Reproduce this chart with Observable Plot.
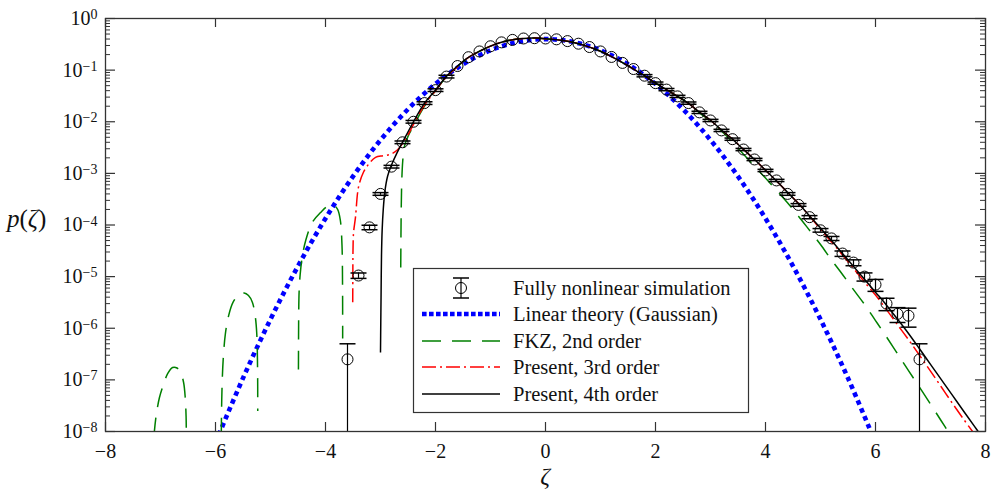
<!DOCTYPE html>
<html>
<head>
<meta charset="utf-8">
<script src="https://cdn.jsdelivr.net/npm/d3@7"></script>
<script src="https://cdn.jsdelivr.net/npm/@observablehq/plot@0.6"></script>
<style>
  html, body { margin: 0; padding: 0; background: #fff; }
  #chart { width: 992px; height: 492px; }
  svg { display: block; }
</style>
</head>
<body>
<div id="chart"></div>
<script>
// ---------- tick labels / legend ----------
const xTickValues = [-8, -6, -4, -2, 0, 2, 4, 6, 8];
const yDecades = [-8, -7, -6, -5, -4, -3, -2, -1, 0];
const legendLabels = [
  "Fully nonlinear simulation",
  "Linear theory (Gaussian)",
  "FKZ, 2nd order",
  "Present, 3rd order",
  "Present, 4th order"
];

// ---------- Fully nonlinear simulation (circles with error bars) ----------
const simZeta = [-3.6,-3.4,-3.2,-3.0,-2.8,-2.6,-2.4,-2.2,-2.0,-1.8,-1.6,-1.4,-1.2,-1.0,-0.8,-0.6,-0.4,-0.2,0,0.2,0.4,0.6,0.8,1.0,1.2,1.4,1.6,1.8,2.0,2.2,2.4,2.6,2.8,3.0,3.2,3.4,3.6,3.8,4.0,4.2,4.4,4.6,4.8,5.0,5.2,5.4,5.6,5.8,6.0,6.2,6.4,6.6,6.8];
const simP = [2.5e-7,1.05e-5,9e-5,4.0e-4,1.35e-3,4.0e-3,1.0e-2,2.3e-2,4.1e-2,7.5e-2,0.12,0.178,0.23,0.29,0.345,0.385,0.41,0.415,0.41,0.395,0.365,0.325,0.28,0.23,0.18,0.138,0.105,0.078,0.056,0.042,0.031,0.023,0.0152,0.0106,0.0068,0.0046,0.0029,0.00186,0.00114,7.3e-4,4.0e-4,2.45e-4,1.42e-4,7.9e-5,5.5e-5,2.8e-5,1.87e-5,1.0e-5,7.0e-6,3.0e-6,1.9e-6,1.75e-6,2.5e-7];
// relative error (sigma / p); null = no visible bar
const simRelErr = [1.0,0.12,0.1,0.06,0.06,0.06,0.06,0.06,0.06,0.06,
  null,null,null,null,null,null,null,null,null,null,null,null,null,null,null,null,null,
  0.05,0.05,0.05,0.05,0.05,0.05,0.05,0.05,0.05,0.05,0.05,0.05,0.05,0.06,0.06,0.07,0.08,0.09,0.12,0.13,0.18,0.26,0.27,0.32,0.4,1.0];

// ---------- Linear theory (Gaussian) ----------
const gaussZeta = [-6,-5.5,-5,-4.5,-4,-3.5,-3,-2.5,-2,-1.5,-1,-0.5,0,0.5,1,1.5,2,2.5,3,3.5,4,4.5,5,5.5,6];
const gaussP = [6.08e-9,1.08e-7,1.49e-6,1.60e-5,1.34e-4,8.73e-4,4.43e-3,1.75e-2,5.40e-2,0.1295,0.242,0.352,0.399,0.352,0.242,0.1295,5.40e-2,1.75e-2,4.43e-3,8.73e-4,1.34e-4,1.60e-5,1.49e-6,1.08e-7,6.08e-9];

// ---------- FKZ, 2nd order (several branches) ----------
const fkzMainZeta = [-2.632,-2.628,-2.622,-2.612,-2.595,-2.57,-2.5,-2.4,-2.2,-2.0,-1.8,-1.6,-1.4,-1.2,-1.0,-0.8,-0.6,-0.4,-0.2,0,0.2,0.4,0.6,0.8,1.0,1.2,1.4,1.6,1.8,2.0,2.2,2.4,2.6,2.8,3.0,3.2,3.4,3.6,3.8,4.0,4.2,4.4,4.6,4.8,5.0,5.2,5.4,5.6,5.8,6.0,6.2,6.4,6.6,6.8,7.0,7.2,7.35];
const fkzMainP = [1.5e-5,6.3e-5,2.5e-4,7.9e-4,1.78e-3,3.2e-3,5.2e-3,8.3e-3,2.0e-2,4.0e-2,7.4e-2,0.117,0.176,0.232,0.292,0.347,0.389,0.412,0.417,0.407,0.389,0.363,0.324,0.279,0.232,0.182,0.140,0.105,0.078,0.056,0.042,0.031,0.0226,0.0148,0.0102,0.0066,0.0040,0.00234,0.00138,8.1e-4,4.7e-4,2.7e-4,1.48e-4,7.9e-5,4.2e-5,2.1e-5,1.1e-5,5.6e-6,2.9e-6,1.41e-6,6.8e-7,3.2e-7,1.51e-7,7.2e-8,3.4e-8,1.58e-8,8.9e-9];
const fkzArcAZeta = [-4.492,-4.49,-4.487,-4.48,-4.46,-4.42,-4.36,-4.24,-4.09,-3.95,-3.85,-3.78,-3.73,-3.70,-3.69,-3.688];
const fkzArcAP = [1.58e-7,6.3e-7,2.0e-6,5.0e-6,1.12e-5,2.5e-5,5.0e-5,1.12e-4,1.74e-4,2.34e-4,2.4e-4,2.0e-4,1.23e-4,4.0e-5,6.3e-6,6.3e-7];
const fkzArcBZeta = [-5.895,-5.89,-5.88,-5.86,-5.82,-5.76,-5.68,-5.58,-5.48,-5.4,-5.33,-5.28,-5.25,-5.235,-5.232];
const fkzArcBP = [7.9e-9,2.5e-8,7.9e-8,2.5e-7,7.9e-7,1.78e-6,3.2e-6,4.4e-6,4.8e-6,4.3e-6,3.2e-6,1.78e-6,7.9e-7,1.58e-7,2.5e-8];
const fkzArcCZeta = [-7.12,-7.08,-7.02,-6.95,-6.87,-6.78,-6.7,-6.63,-6.58,-6.55,-6.535,-6.53];
const fkzArcCP = [7.9e-9,2.0e-8,4.5e-8,7.9e-8,1.32e-7,1.74e-7,1.7e-7,1.35e-7,8.9e-8,4.5e-8,2.0e-8,7.9e-9];

// ---------- Present, 3rd order ----------
const order3Zeta = [-3.505,-3.503,-3.5,-3.49,-3.455,-3.4,-3.31,-3.2,-3.09,-2.95,-2.82,-2.7,-2.6,-2.5,-2.4,-2.2,-2.0,-1.8,-1.6,-1.4,-1.2,-1.0,-0.8,-0.6,-0.4,-0.2,0,0.2,0.4,0.6,0.8,1.0,1.2,1.4,1.6,1.8,2.0,2.2,2.4,2.6,2.8,3.0,3.2,3.4,3.6,3.8,4.0,4.2,4.4,4.6,4.8,5.0,5.2,5.4,5.6,5.8,6.0,6.2,6.4,6.6,6.8,7.0,7.2,7.4,7.6,7.8];
const order3P = [3.2e-6,1.0e-5,3.2e-5,7.1e-5,1.41e-4,5.4e-4,1.05e-3,1.58e-3,2.04e-3,2.2e-3,2.34e-3,2.8e-3,3.8e-3,5.6e-3,8.9e-3,2.1e-2,4.0e-2,7.4e-2,0.117,0.176,0.232,0.292,0.347,0.389,0.412,0.417,0.407,0.389,0.363,0.324,0.279,0.232,0.182,0.140,0.105,0.078,0.056,0.042,0.031,0.0226,0.0153,0.0107,0.0069,0.0046,0.0029,0.00186,0.00115,7.1e-4,4.3e-4,2.6e-4,1.5e-4,8.3e-5,4.7e-5,2.63e-5,1.45e-5,7.9e-6,4.4e-6,2.3e-6,1.17e-6,6.0e-7,3.0e-7,1.48e-7,7.2e-8,3.5e-8,1.74e-8,8.9e-9];

// ---------- Present, 4th order ----------
const order4Zeta = [-3.0,-2.995,-2.99,-2.982,-2.97,-2.95,-2.92,-2.87,-2.8,-2.7,-2.6,-2.4,-2.2,-2.0,-1.8,-1.6,-1.4,-1.2,-1.0,-0.8,-0.6,-0.4,-0.2,0,0.2,0.4,0.6,0.8,1.0,1.2,1.4,1.6,1.8,2.0,2.2,2.4,2.6,2.8,3.0,3.2,3.4,3.6,3.8,4.0,4.2,4.4,4.6,4.8,5.0,5.2,5.4,5.6,5.8,6.0,6.2,6.4,6.6,6.8,7.0,7.2,7.4,7.6,7.8,7.9];
const order4P = [3.4e-7,1.26e-6,4.0e-6,2.5e-5,7.9e-5,2.0e-4,4.5e-4,8.9e-4,1.45e-3,2.5e-3,4.0e-3,1.0e-2,2.3e-2,4.1e-2,7.6e-2,0.12,0.176,0.232,0.292,0.347,0.389,0.412,0.417,0.407,0.389,0.363,0.324,0.279,0.232,0.182,0.140,0.105,0.078,0.056,0.042,0.031,0.0226,0.0153,0.0107,0.0069,0.0046,0.0029,0.00186,0.00115,7.1e-4,4.3e-4,2.6e-4,1.5e-4,8.7e-5,5.0e-5,2.8e-5,1.58e-5,8.9e-6,5.0e-6,2.8e-6,1.5e-6,7.9e-7,4.0e-7,2.0e-7,1.0e-7,5.0e-8,2.5e-8,1.26e-8,8.9e-9];

// ---------- build tables ----------
const toRows = (zs, ps, seg) => zs.map((z, i) => ({z, p: ps[i], seg}));
const gaussData = toRows(gaussZeta, gaussP, "g");
const fkzData = [
  ...toRows(fkzMainZeta, fkzMainP, "main"),
  ...toRows(fkzArcAZeta, fkzArcAP, "A"),
  ...toRows(fkzArcBZeta, fkzArcBP, "B"),
  ...toRows(fkzArcCZeta, fkzArcCP, "C")
];
const order3Data = toRows(order3Zeta, order3P, "o3");
const order4Data = toRows(order4Zeta, order4P, "o4");
const simData = simZeta.map((z, i) => ({z, p: simP[i], err: simRelErr[i]}));
const simBars = simData.filter(d => d.err != null).map(d => ({
  z: d.z, hi: d.p * (1 + d.err), lo: Math.max(d.p * (1 - d.err), 1e-12)
}));

const yMajor = yDecades.map(e => Math.pow(10, e));
const yMinor = [];
yDecades.slice(0, -1).forEach(e => { for (let m = 2; m <= 9; m++) yMinor.push(m * Math.pow(10, e)); });

const FONT = "Liberation Serif";
const W = 992, H = 492;
const M = {top: 18, right: 7, bottom: 61, left: 105};
const innerW = W - M.left - M.right, innerH = H - M.top - M.bottom;
const AX = "#333";

const capSymbol = {
  draw(ctx, size) { const w = Math.sqrt(size / Math.PI); ctx.moveTo(-w, 0); ctx.lineTo(w, 0); }
};

const lineStyle = {strokeLinecap: "butt", strokeLinejoin: "miter", curve: "catmull-rom", clip: true};

const chart = Plot.plot({
  width: W, height: H,
  marginTop: M.top, marginRight: M.right, marginBottom: M.bottom, marginLeft: M.left,
  style: {fontFamily: FONT, fontSize: "20px", background: "#fff", color: "#111"},
  x: {domain: [-8, 8], label: null},
  y: {type: "log", domain: [1e-8, 1], label: null},
  marks: [
    Plot.line(gaussData, {x: "z", y: "p", stroke: "#0000ff", strokeWidth: 4.6, strokeDasharray: "4.6,3.9", ...lineStyle}),
    Plot.line(fkzData, {x: "z", y: "p", z: "seg", stroke: "#008000", strokeWidth: 1.5, strokeDasharray: "19,11", ...lineStyle}),
    Plot.line(order3Data, {x: "z", y: "p", stroke: "#ff0000", strokeWidth: 1.5, strokeDasharray: "14,4,2,4", ...lineStyle}),
    Plot.line(order4Data, {x: "z", y: "p", stroke: "#000", strokeWidth: 1.5, ...lineStyle}),
    Plot.ruleX(simBars, {x: "z", y1: "lo", y2: "hi", stroke: "#000", strokeWidth: 1.2, clip: true}),
    Plot.dot(simBars, {x: "z", y: "hi", r: 8, symbol: capSymbol, fill: "none", stroke: "#000", strokeWidth: 1.5, clip: true}),
    Plot.dot(simBars, {x: "z", y: "lo", r: 8, symbol: capSymbol, fill: "none", stroke: "#000", strokeWidth: 1.5, clip: true}),
    Plot.dot(simData, {x: "z", y: "p", r: 5.5, fill: "none", stroke: "#000", strokeWidth: 1, clip: true}),
    Plot.tickX(xTickValues, {x: d => d, insetTop: innerH - 9, stroke: AX, strokeWidth: 1.2}),
    Plot.tickX(xTickValues, {x: d => d, insetBottom: innerH - 9, stroke: AX, strokeWidth: 1.2}),
    Plot.tickY(yMajor, {y: d => d, insetRight: innerW - 10, stroke: AX, strokeWidth: 1.2}),
    Plot.tickY(yMinor, {y: d => d, insetRight: innerW - 5, stroke: AX, strokeWidth: 1}),
    Plot.tickY(yMajor, {y: d => d, insetLeft: innerW - 10, stroke: AX, strokeWidth: 1.2}),
    Plot.tickY(yMinor, {y: d => d, insetLeft: innerW - 5, stroke: AX, strokeWidth: 1}),
    Plot.frame({stroke: AX, strokeWidth: 1.3}),
    Plot.axisX(xTickValues, {tickSize: 0, tickPadding: 12, fontSize: 20, fontFamily: FONT, fill: "#111"}),
    Plot.axisY(yMajor, {tickSize: 0, tickPadding: 8, fontSize: 20, fontFamily: FONT, fill: "#111", tickFormat: d => String(Math.round(Math.log10(d)))})
  ]
});

document.getElementById("chart").appendChild(chart);

const svg = d3.select(chart);

// superscript exponents on the y tick labels
svg.selectAll('g[aria-label="y-axis tick label"] text').each(function () {
  const t = d3.select(this);
  const e = t.text().replace("-", "\u2212");
  t.text(null);
  t.append("tspan").text("10");
  t.append("tspan").attr("dy", "-0.42em").attr("font-size", "14px").text(e);
});

// axis titles
const yTitle = svg.append("text").attr("x", 7).attr("y", 227).attr("text-anchor", "start")
  .attr("font-family", FONT).attr("font-size", 25).attr("fill", "#111");
yTitle.append("tspan").attr("font-style", "italic").text("p");
yTitle.append("tspan").text("(");
yTitle.append("tspan").attr("font-style", "italic").text("\u03B6");
yTitle.append("tspan").text(")");

svg.append("text").attr("x", 545).attr("y", 484).attr("text-anchor", "middle")
  .attr("font-family", FONT).attr("font-size", 24).attr("font-style", "italic")
  .attr("fill", "#111").text("\u03B6");

// legend
const lg = svg.append("g").attr("font-family", FONT).attr("font-size", 20.5).attr("fill", "#111").attr("text-anchor", "start");
lg.append("rect").attr("x", 413.5).attr("y", 268.5).attr("width", 335).attr("height", 144)
  .attr("fill", "#fff").attr("stroke", AX).attr("stroke-width", 1.2);
const rowY = [288, 314, 341, 367, 394];
legendLabels.forEach((label, i) => {
  lg.append("text").attr("x", 513).attr("y", rowY[i] + 7).attr("text-anchor", "start").text(label);
});
// symbol 0: circle with error bar
const sx = 461;
lg.append("line").attr("x1", sx).attr("x2", sx).attr("y1", rowY[0] - 10).attr("y2", rowY[0] + 10).attr("stroke", "#000").attr("stroke-width", 1.2);
lg.append("line").attr("x1", sx - 8).attr("x2", sx + 8).attr("y1", rowY[0] - 10).attr("y2", rowY[0] - 10).attr("stroke", "#000").attr("stroke-width", 1.5);
lg.append("line").attr("x1", sx - 8).attr("x2", sx + 8).attr("y1", rowY[0] + 10).attr("y2", rowY[0] + 10).attr("stroke", "#000").attr("stroke-width", 1.5);
lg.append("circle").attr("cx", sx).attr("cy", rowY[0]).attr("r", 5.5).attr("fill", "none").attr("stroke", "#000");
const legendLines = [
  {stroke: "#0000ff", w: 4.6, dash: "4.6,2.4"},
  {stroke: "#008000", w: 1.5, dash: "19,11"},
  {stroke: "#ff0000", w: 1.5, dash: "14,4,2,4"},
  {stroke: "#000", w: 1.5, dash: null}
];
legendLines.forEach((s, i) => {
  const l = lg.append("line").attr("x1", 422).attr("x2", 500).attr("y1", rowY[i + 1]).attr("y2", rowY[i + 1])
    .attr("stroke", s.stroke).attr("stroke-width", s.w).attr("stroke-linecap", "butt");
  if (s.dash) l.attr("stroke-dasharray", s.dash);
});
</script>
</body>
</html>
